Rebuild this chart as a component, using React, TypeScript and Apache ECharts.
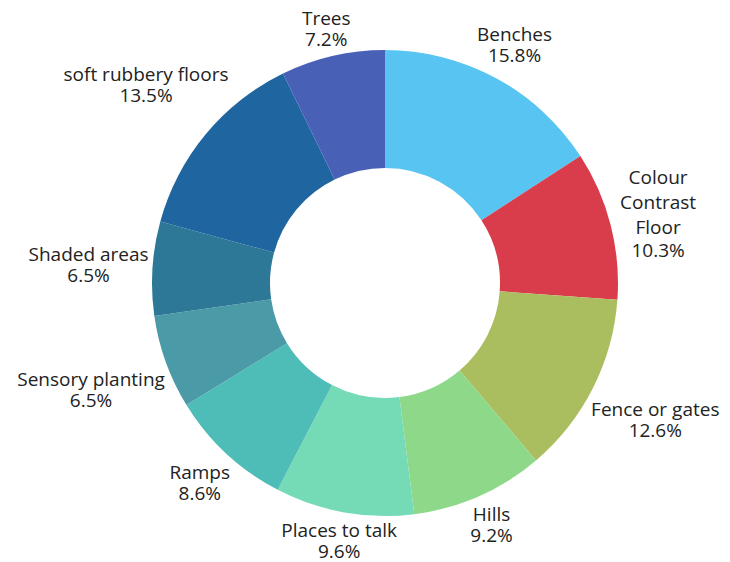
import React, { useEffect, useRef } from "react";
import * as echarts from "echarts";

// Share of votes per playground feature (percent)
const categories = [
  "Benches",
  "Colour\nContrast\nFloor",
  "Fence or gates",
  "Hills",
  "Places to talk",
  "Ramps",
  "Sensory planting",
  "Shaded areas",
  "soft rubbery floors",
  "Trees",
];
const values = [15.8, 10.3, 12.6, 9.2, 9.6, 8.6, 6.5, 6.5, 13.5, 7.2];
const colors = [
  "#58C4F2",
  "#D93D4B",
  "#AABE5F",
  "#8ED88A",
  "#75DAB6",
  "#4FBDB7",
  "#4A9AA7",
  "#2D7797",
  "#1F66A0",
  "#4960B7",
];

const CX = 385;
const CY = 283;
const R_IN = 115;
const R_OUT = 233;
const LABEL_R = 236;
const FONT = "'Open Sans', 'Noto Sans', sans-serif";
const FONT_SIZE = 19;

export default function App() {
  const ref = useRef<HTMLDivElement>(null);

  useEffect(() => {
    if (!ref.current) return;
    const chart = echarts.init(ref.current, null, { renderer: "svg" });
    const total = values.reduce((a, b) => a + b, 0);
    const before: number[] = [];
    values.reduce((acc, v, i) => {
      before[i] = acc;
      return acc + v;
    }, 0);

    chart.setOption({
      animation: false,
      backgroundColor: "#ffffff",
      series: [
        {
          type: "pie",
          center: [CX, CY],
          radius: [R_IN, R_OUT],
          startAngle: 90,
          clockwise: true,
          avoidLabelOverlap: false,
          itemStyle: { borderWidth: 0 },
          emphasis: { disabled: true },
          labelLine: { show: false },
          label: {
            show: true,
            position: "outside",
            color: "#222222",
            fontFamily: FONT,
            fontSize: FONT_SIZE,
            lineHeight: 21,
            formatter: (p: any) => {
              const lines = String(p.name).split("\n");
              const tag = lines.length > 1 ? "m" : "n";
              return lines.map((l) => `{${tag}|${l}}`).join("\n") + `\n{n|${p.value}%}`;
            },
            rich: {
              n: { fontSize: FONT_SIZE, lineHeight: 21, color: "#222222", fontFamily: FONT },
              m: { fontSize: FONT_SIZE, lineHeight: 25, color: "#222222", fontFamily: FONT },
            },
          },
          // Push each label outward along its slice's mid-angle until its box clears the ring
          labelLayout: (params: any) => {
            const i = params.dataIndex;
            const mid = ((before[i] + values[i] / 2) / total) * Math.PI * 2;
            const ux = Math.sin(mid);
            const uy = -Math.cos(mid);
            const hw = params.labelRect.width / 2;
            const hh = params.labelRect.height / 2;
            let d = LABEL_R;
            for (; d < LABEL_R + 250; d += 0.5) {
              const bx = ux * d;
              const by = uy * d;
              const nx = Math.min(Math.max(0, bx - hw), bx + hw);
              const ny = Math.min(Math.max(0, by - hh), by + hh);
              if (Math.hypot(nx, ny) >= LABEL_R) break;
            }
            return {
              x: CX + ux * d,
              y: CY + uy * d,
              align: "center",
              verticalAlign: "middle",
            };
          },
          data: categories.map((name, i) => ({
            name,
            value: values[i],
            itemStyle: { color: colors[i] },
          })),
        },
      ],
    });
    return () => chart.dispose();
  }, []);

  return (
    <div
      ref={ref}
      style={{ position: "fixed", left: 0, top: 0, width: 730, height: 562 }}
    />
  );
}
